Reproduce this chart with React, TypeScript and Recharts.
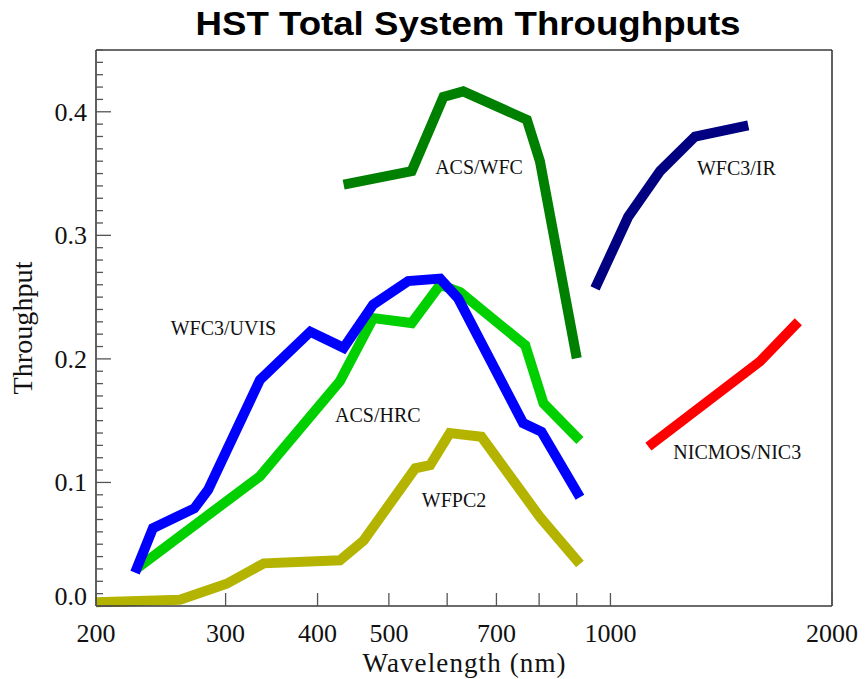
import React from 'react';
import { LineChart, Line, XAxis, YAxis, ReferenceDot } from 'recharts';

// ---- data (wavelength nm, throughput) ----
const acsWfcWave = [434, 537, 593, 631, 770, 802, 900];
const acsWfcThru = [0.341, 0.352, 0.412, 0.4165, 0.3935, 0.36, 0.2005];

const wfc3IrWave = [953, 1057, 1168, 1303, 1539];
const wfc3IrThru = [0.257, 0.315, 0.352, 0.38, 0.389];

const wfc3UvisWave = [226, 239, 272, 284, 334, 391, 434, 476, 531, 587, 621, 761, 806, 909];
const wfc3UvisThru = [0.027, 0.063, 0.079, 0.094, 0.183, 0.222, 0.209, 0.244, 0.263, 0.265, 0.249, 0.148, 0.141, 0.088];

const acsHrcWave = [228, 334, 429, 476, 537, 587, 625, 766, 811, 909];
const acsHrcThru = [0.031, 0.105, 0.182, 0.233, 0.229, 0.26, 0.254, 0.211, 0.164, 0.134];

const wfpc2Wave = [200, 260, 301, 338, 429, 462, 543, 569, 605, 668, 802, 909];
const wfpc2Thru = [0.003, 0.005, 0.018, 0.0345, 0.037, 0.053, 0.1115, 0.114, 0.14, 0.137, 0.072, 0.034];

const nicmosWave = [1126, 1597, 1800];
const nicmosThru = [0.129, 0.198, 0.23];

const seriesLabels = ['ACS/WFC', 'WFC3/IR', 'WFC3/UVIS', 'ACS/HRC', 'WFPC2', 'NICMOS/NIC3'];
const labelWave = [663, 1483, 298, 483, 613, 1487];
const labelThru = [0.3555, 0.3547, 0.225, 0.1547, 0.0858, 0.1247];

const xTicks = [200, 300, 400, 500, 600, 700, 800, 900, 1000, 2000];
const xLabelTicks = [200, 300, 400, 500, 700, 1000, 2000];
const yTicks = Array.from({ length: 46 }, (_, i) => i / 100);
const yMajorTicks = [0, 0.1, 0.2, 0.3, 0.4];

const toPts = (w: number[], t: number[]) => w.map((v, i) => ({ w: v, t: t[i] }));

const SERIF = '"Liberation Serif", "Times New Roman", serif';
const SANS = '"Liberation Sans", Arial, sans-serif';
const AXIS_COLOR = '#3a3a3a';
const TICK_COLOR = '#555';

const isMajorY = (v: number) => yMajorTicks.some((m) => Math.abs(m - v) < 1e-6);

const YTickLeft = (props: any) => {
  const { x, y, payload } = props;
  const v = payload.value as number;
  const major = isMajorY(v);
  return (
    <g>
      <line x1={x} x2={x + (major ? 15 : 7)} y1={y} y2={y} stroke={TICK_COLOR} strokeWidth={1.3} />
      {major && (
        <text x={x - 9} y={y + 9 - (v === 0 ? 10 : 0)} textAnchor="end" fontSize={26} fontFamily={SERIF} fill="#111">
          {v.toFixed(1)}
        </text>
      )}
    </g>
  );
};

const YTickRight = (props: any) => {
  const { x, y, payload } = props;
  const major = isMajorY(payload.value);
  return <line x1={x} x2={x - (major ? 15 : 7)} y1={y} y2={y} stroke={TICK_COLOR} strokeWidth={1.3} />;
};

const XTickBottom = (props: any) => {
  const { x, y, payload } = props;
  const v = payload.value as number;
  return (
    <g>
      <line x1={x} x2={x} y1={y} y2={y - 13} stroke={TICK_COLOR} strokeWidth={1.3} />
      {xLabelTicks.includes(v) && (
        <text x={x} y={y + 36} textAnchor="middle" fontSize={26} fontFamily={SERIF} fill="#111">
          {v}
        </text>
      )}
    </g>
  );
};

const XTickTop = (props: any) => {
  const { x, y } = props;
  return <line x1={x} x2={x} y1={y} y2={y + 13} stroke={TICK_COLOR} strokeWidth={1.3} />;
};

const series = [
  { name: 'WFPC2', data: toPts(wfpc2Wave, wfpc2Thru), color: '#b4b400' },
  { name: 'ACS/HRC', data: toPts(acsHrcWave, acsHrcThru), color: '#00d000' },
  { name: 'WFC3/UVIS', data: toPts(wfc3UvisWave, wfc3UvisThru), color: '#0000ff' },
  { name: 'ACS/WFC', data: toPts(acsWfcWave, acsWfcThru), color: '#008000' },
  { name: 'WFC3/IR', data: toPts(wfc3IrWave, wfc3IrThru), color: '#000080' },
  { name: 'NICMOS/NIC3', data: toPts(nicmosWave, nicmosThru), color: '#ff0000' },
];

export default function App() {
  return (
    <div style={{ position: 'absolute', left: 0, top: 0, background: '#fff' }}>
      <LineChart width={865} height={679} margin={{ top: 40, right: 23, bottom: 33, left: 36 }}>
        <XAxis
          xAxisId="b"
          type="number"
          dataKey="w"
          scale="log"
          domain={[200, 2000]}
          ticks={xTicks}
          interval={0}
          height={40}
          tickSize={0}
          tickMargin={0}
          tickLine={false}
          axisLine={{ stroke: AXIS_COLOR, strokeWidth: 1.6 }}
          tick={<XTickBottom />}
          label={{
            content: () => (
              <text x={464} y={672} textAnchor="middle" fontSize={27} fontFamily={SERIF} fill="#111" textLength={203} lengthAdjust="spacing">
                Wavelength (nm)
              </text>
            ),
          }}
        />
        <XAxis
          xAxisId="t"
          orientation="top"
          type="number"
          dataKey="w"
          scale="log"
          domain={[200, 2000]}
          ticks={xTicks}
          interval={0}
          height={10}
          tickSize={0}
          tickMargin={0}
          tickLine={false}
          axisLine={{ stroke: AXIS_COLOR, strokeWidth: 1.6 }}
          tick={<XTickTop />}
          label={{
            content: () => (
              <text x={468} y={35} textAnchor="middle" fontSize={34} fontWeight="bold" fontFamily={SANS} fill="#000" textLength={545} lengthAdjust="spacingAndGlyphs">
                HST Total System Throughputs
              </text>
            ),
          }}
        />
        <YAxis
          yAxisId="l"
          type="number"
          domain={[0, 0.45]}
          ticks={yTicks}
          interval={0}
          width={60}
          tickSize={0}
          tickMargin={0}
          tickLine={false}
          axisLine={{ stroke: AXIS_COLOR, strokeWidth: 1.6 }}
          tick={<YTickLeft />}
          label={{
            content: () => (
              <text x={32} y={328} transform="rotate(-90 32 328)" textAnchor="middle" fontSize={28} fontFamily={SERIF} fill="#111" textLength={133} lengthAdjust="spacing">
                Throughput
              </text>
            ),
          }}
        />
        <YAxis
          yAxisId="r"
          orientation="right"
          type="number"
          domain={[0, 0.45]}
          ticks={yTicks}
          interval={0}
          width={10}
          tickSize={0}
          tickMargin={0}
          tickLine={false}
          axisLine={{ stroke: AXIS_COLOR, strokeWidth: 1.6 }}
          tick={<YTickRight />}
        />
        {series.map((s) => (
          <Line
            key={s.name}
            data={s.data}
            dataKey="t"
            xAxisId="b"
            yAxisId="l"
            stroke={s.color}
            strokeWidth={10}
            strokeLinejoin="miter"
            strokeLinecap="butt"
            dot={false}
            activeDot={false}
            isAnimationActive={false}
          />
        ))}
        {seriesLabels.map((name, i) => (
          <ReferenceDot
            key={name}
            x={labelWave[i]}
            y={labelThru[i]}
            xAxisId="b"
            yAxisId="l"
            r={1}
            fill="none"
            stroke="none"
            label={{ value: name, position: 'center', fontSize: 20, fontFamily: SERIF, fill: '#111' }}
          />
        ))}
      </LineChart>
    </div>
  );
}
